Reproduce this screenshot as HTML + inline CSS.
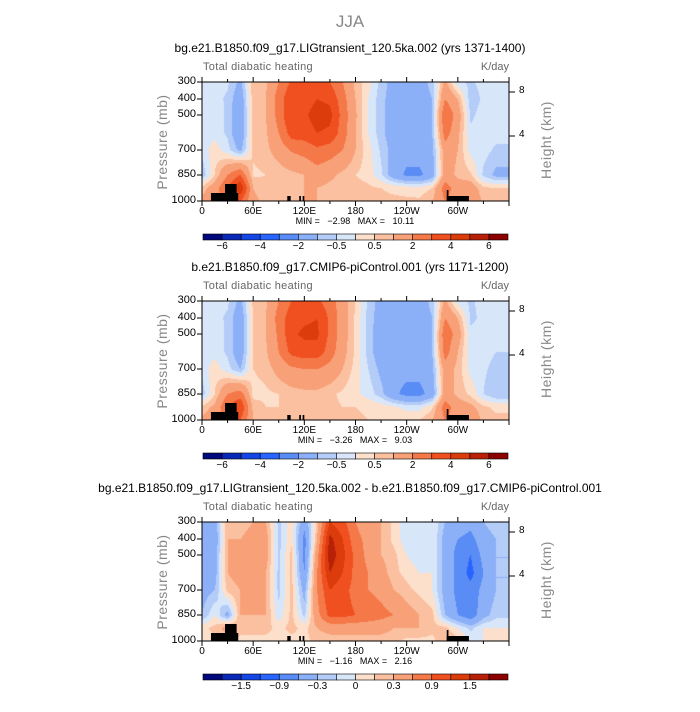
<!DOCTYPE html>
<html><head><meta charset="utf-8"><style>
body{margin:0;background:#fff;width:700px;height:700px;overflow:hidden;font-family:"Liberation Sans",sans-serif}
#root{position:relative;width:700px;height:700px}
.t{position:absolute;white-space:nowrap}
canvas{position:absolute}
</style></head><body><div id="root">
<div class="t" style="left:0;width:700px;text-align:center;top:12px;font-size:17px;color:#888">JJA</div>
</div>
<script>
const lons=[0,15,30,45,60,75,90,105,120,135,150,165,180,195,210,225,240,255,270,285,300,315,330,345];
const levs=[300,400,500,600,700,850,925,1000];
const levY=[0,17,33,51,68,93,106,119];
const p1=[
[-0.3,-0.3,-0.4,-1.2,0.8,0.9,2,3.2,3,3.3,3,2,0.8,0.2,-0.7,-1.3,-1.3,-1.3,-0.8,1.2,-0.4,-0.6,-0.3,-0.3],
[-0.4,-0.3,-0.6,-1.6,0.8,1,2.5,3.8,3.5,4,3.8,2.4,1,0,-0.8,-1.4,-1.5,-1.4,-1,2,1,-0.8,-0.4,-0.3],
[-0.4,-0.2,-0.6,-1.8,0.8,1,2.4,4,3.8,4.5,4.3,2.6,1.1,0,-0.8,-1.5,-1.5,-1.5,-1,3,1.5,-0.6,-0.3,-0.3],
[-0.4,-0.2,-0.6,-1.8,0.8,0.9,2,3.5,3.5,4,3.8,2.5,1,0,-0.8,-1.5,-1.5,-1.5,-1,2.5,1.2,-0.4,-0.3,-0.3],
[-0.3,0.3,-0.3,-1.2,0.6,0.8,1.4,2.1,2.4,2.8,2.5,2,1,0.2,-0.6,-1.3,-1.6,-1.6,-1.2,1.5,1,-0.2,-0.3,-0.6],
[-0.9,0.5,2,3,0.4,0.5,0.6,0.8,1,1.5,1.2,0.8,0.5,0.3,-0.4,-1.5,-2.2,-2.2,-1.5,1.5,0.8,0.6,-0.6,-1.2],
[0.7,1.5,3,5,1,0.6,0.6,0.8,1,1,0.8,0.7,0.7,0.6,0.5,0.4,0.3,0.2,0.5,2.5,1.5,1.5,0.6,0.5],
[1.2,1.5,2.5,3,1.2,0.8,0.8,0.8,1,1,0.8,0.7,0.7,0.6,0.6,0.6,0.6,0.6,1,2,1.5,2,0.8,0.6]];
const p2=[
[-0.3,-0.3,-0.4,-1.2,0.6,0.9,2,3,3.2,3.2,2.5,1.4,0.5,-0.6,-1.3,-1.5,-1.5,-1.4,-0.8,1.2,-0.3,-0.6,-0.3,-0.4],
[-0.3,-0.3,-0.6,-1.6,0.6,1,2.4,3.6,3.8,4,2.8,1.4,0.4,-0.7,-1.4,-1.6,-1.6,-1.5,-1,2,1,-0.6,-0.4,-0.4],
[-0.3,-0.2,-0.6,-1.6,0.6,1,2.2,3.8,4.2,4.2,2.8,1.4,0.4,-0.7,-1.5,-1.6,-1.6,-1.6,-1,2.8,1.5,-0.4,-0.3,-0.4],
[-0.3,-0.2,-0.6,-1.6,0.6,0.9,2,3.3,3.6,3.6,2.5,1.3,0.4,-0.7,-1.5,-1.6,-1.6,-1.6,-1,2.5,1,-0.3,-0.3,-0.5],
[-0.3,0.3,-0.3,-1,0.5,0.7,1.3,1.8,2,2,1.6,1,0.3,-0.5,-1.2,-1.6,-1.7,-1.7,-1.2,1.5,0.8,-0.2,-0.4,-0.7],
[-0.8,0.5,2,2.5,0.3,0.4,0.5,0.7,0.8,0.8,0.6,0.4,0.1,-0.2,-0.8,-1.8,-2.3,-2.3,-1.6,1.5,0.8,0.4,-0.5,-1],
[0.6,1.2,3,4,0.8,0.5,0.5,0.7,0.8,0.8,0.6,0.5,0.5,0.4,0.3,0.1,-0.2,-0.2,0.4,2.5,1.5,1.2,0.6,0.4],
[1.2,1.5,2.5,3,1,0.7,0.7,0.7,0.9,0.8,0.6,0.6,0.6,0.5,0.5,0.5,0.5,0.5,1,2,1.5,1.8,0.8,0.6]];
const p3=[
[-0.4,-0.4,0.3,0.2,0.3,0.3,-0.2,0.1,-0.5,0.2,1.2,1,0.6,0.4,0.3,0.1,-0.1,-0.1,0,-0.3,-0.4,-0.5,-0.3,-0.2],
[-0.5,-0.5,0.3,0.3,0.4,0.4,-0.2,0.1,-0.7,0.3,1.6,1.2,0.7,0.5,0.3,0.1,-0.1,-0.1,0,-0.4,-0.6,-0.7,-0.4,-0.3],
[-0.5,-0.4,0.3,0.4,0.5,0.4,-0.2,0.2,-0.7,0.5,1.7,1.3,0.8,0.5,0.3,0.2,0,-0.1,0,-0.4,-0.7,-0.9,-0.5,-0.3],
[-0.5,-0.4,0.3,0.4,0.5,0.3,-0.2,0.2,-0.6,0.6,1.5,1.2,0.8,0.6,0.4,0.2,0.1,0,0,-0.4,-0.7,-1,-0.6,-0.3],
[-0.4,-0.3,0.2,0.3,0.4,0.3,-0.2,0.2,-0.4,0.6,1.2,1,0.8,0.6,0.5,0.3,0.2,0.1,0,-0.4,-0.7,-0.8,-0.5,-0.3],
[-0.3,0,-0.4,0.3,0.3,0.3,-0.1,0.2,-0.2,0.5,1,1,0.9,0.8,0.7,0.6,0.4,0.3,0.2,-0.3,-0.6,-0.8,-0.4,-0.2],
[0.1,0.2,0.4,0.2,0.2,0.2,0.1,0.2,0.1,0.3,0.4,0.4,0.4,0.4,0.4,0.3,0.3,0.3,0.2,0.2,0,-0.2,0,0],
[0.1,0.1,0.2,0.1,0.1,0.1,0.1,0.1,0.1,0.2,0.2,0.2,0.2,0.2,0.2,0.2,0.1,0.1,0.1,0.3,0.2,0,0,0]];
const levelsA=[-6,-5,-4,-3,-2,-1,-0.5,0,0.5,1,2,3,4,5,6];
const levelsB=[-1.8,-1.5,-1.2,-0.9,-0.6,-0.3,-0.15,0,0.15,0.3,0.6,0.9,1.2,1.5,1.8];
const labelsA=['−6','−4','−2','−0.5','0.5','2','4','6'];
const labelsB=['−1.5','−0.9','−0.3','0','0.3','0.9','1.5'];
const titles=['bg.e21.B1850.f09_g17.LIGtransient_120.5ka.002 (yrs 1371-1400)','b.e21.B1850.f09_g17.CMIP6-piControl.001 (yrs 1171-1200)','bg.e21.B1850.f09_g17.LIGtransient_120.5ka.002 - b.e21.B1850.f09_g17.CMIP6-piControl.001'];
const minmax=['MIN =   −2.98   MAX =   10.11','MIN =   −3.26   MAX =   9.03','MIN =   −1.16   MAX =   2.16'];
const xTickLabels=['0','60E','120E','180','120W','60W'];
const colors=['#00087c','#0a28b8','#1446e6','#2864ff','#5a8cf5','#8cb0f8','#b4ccf8','#d8e6fa','#fde0cc','#fbc0a0','#f8a078','#f47848','#f05020','#dc3c0c','#b82008','#8c0000'];
const root=document.getElementById('root');
const X0=202,W=307,H=119;
function tx(parent,name,txt,css){const d=document.createElement('div');d.className='t';d.textContent=txt;d.style.cssText=css;


parent.appendChild(d);return d;}
function field(grid,px,py){
 const lon=px/W*360;let i=Math.min(Math.floor(lon/15),22);let fx=(lon-i*15)/15;if(fx>1)fx=1;
 let j=0;while(j<6&&levY[j+1]<py)j++;let fy=(py-levY[j])/(levY[j+1]-levY[j]);fy=Math.max(0,Math.min(1,fy));
 const a=grid[j][i]*(1-fx)+grid[j][i+1]*fx,b=grid[j+1][i]*(1-fx)+grid[j+1][i+1]*fx;return a*(1-fy)+b*fy;}
function cls(v,lv){let k=0;while(k<lv.length&&v>=lv[k])k++;return k;}
function lonX(l){return X0+l/360*W;}
const panels=[{g:p1,lv:levelsA,lb:labelsA,off:0},{g:p2,lv:levelsA,lb:labelsA,off:219},{g:p3,lv:levelsB,lb:labelsB,off:440}];
panels.forEach((p,n)=>{
 const Y0=82+p.off;
 tx(root,'panel-title-'+(n+1),titles[n],`left:0;width:700px;text-align:center;top:${Y0-41}px;font-size:12px;color:#000`);
 tx(root,'subtitle-left-'+(n+1),'Total diabatic heating',`left:203px;top:${Y0-21}px;font-size:11px;color:#666;letter-spacing:0.3px`);
 tx(root,'units-label-'+(n+1),'K/day',`left:470px;width:39px;text-align:right;top:${Y0-21}px;font-size:11px;color:#666`);
 const cv=document.createElement('canvas');cv.width=W;cv.height=H;cv.style.left=X0+'px';cv.style.top=Y0+'px';
 
 
 root.appendChild(cv);const c=cv.getContext('2d');
 for(let y=0;y<H;y++)for(let x=0;x<W;x++){c.fillStyle=colors[cls(field(p.g,x+0.5,y+0.5),p.lv)];c.fillRect(x,y,1,1);}
 const ns='http://www.w3.org/2000/svg';
 const sv=document.createElementNS(ns,'svg');sv.setAttribute('width',700);sv.setAttribute('height',200);
 sv.style.cssText=`position:absolute;left:0;top:${Y0-10}px`;
 
 
 root.appendChild(sv);
 let s='';const oy=10;
 [[10.5,42.5,193],[27,40.6,184],[100,104,196],[114,116,196],[118,120,196],[287,313,196],[287,289,190]].forEach(t=>{s+=`<rect x="${lonX(t[0])}" y="${t[2]-82+oy}" width="${lonX(t[1])-lonX(t[0])}" height="${201-t[2]}" fill="#000"/>`;});
 s+=`<rect x="${X0}" y="${oy}" width="${W}" height="${H}" fill="none" stroke="#000" stroke-width="1"/>`;
 for(let l=0;l<=360;l+=30){const x=lonX(l),L=l%60==0?5:3;s+=`<line x1="${x}" y1="${oy+H}" x2="${x}" y2="${oy+H+L}" stroke="#000"/><line x1="${x}" y1="${oy}" x2="${x}" y2="${oy-L}" stroke="#000"/>`;}
 [0,1,2,4,5,7].forEach(j=>{s+=`<line x1="${X0-5}" y1="${oy+levY[j]}" x2="${X0}" y2="${oy+levY[j]}" stroke="#000"/>`;});
 [[8,10],[4,54]].forEach(h=>{s+=`<line x1="${X0+W}" y1="${oy+h[1]}" x2="${X0+W+6}" y2="${oy+h[1]}" stroke="#000"/>`;});
 sv.innerHTML=s;
 [300,400,500,null,700,850,null,1000].forEach((v,j)=>{if(v)tx(root,'y-tick-label','' +v,`left:160px;width:36px;text-align:right;top:${Y0+levY[j]-7}px;font-size:11px;color:#000`);});
 tx(root,'height-tick-8','8',`left:519px;top:${Y0+3}px;font-size:10px;color:#000`);
 tx(root,'height-tick-4','4',`left:519px;top:${Y0+47}px;font-size:10px;color:#000`);
 tx(root,'y-axis-title-'+(n+1),'Pressure (mb)',`left:112px;top:${Y0+52}px;width:100px;text-align:center;font-size:14px;color:#888;transform:rotate(-90deg);transform-origin:50% 50%;letter-spacing:0.5px`);
 tx(root,'height-axis-title-'+(n+1),'Height (km)',`left:496px;top:${Y0+50}px;width:100px;text-align:center;font-size:14px;color:#888;transform:rotate(-90deg);letter-spacing:0.5px`);
 xTickLabels.forEach((t,k)=>{tx(root,'x-tick-label',t,`left:${lonX(k*60)-20}px;width:40px;text-align:center;top:${Y0+H+5}px;font-size:10px;color:#000`);});
 tx(root,'min-max-'+(n+1),minmax[n],`left:250px;width:210px;text-align:center;top:${Y0+H+15}px;font-size:9px;color:#000;white-space:pre`);
 const cb=document.createElementNS(ns,'svg');cb.setAttribute('width',310);cb.setAttribute('height',8);
 cb.style.cssText=`position:absolute;left:201px;top:${233+p.off}px`;
 
 
 let cs='';colors.forEach((col,k)=>{cs+=`<rect x="${2+k*305/16}" y="1" width="${305/16}" height="6" fill="${col}" stroke="#000" stroke-width="0.6"/>`;});
 cb.innerHTML=cs;root.appendChild(cb);
 const lpos=n<2?[0,2,4,6,8,10,12,14]:[1,3,5,7,9,11,13];
 p.lb.forEach((t,k)=>{const x=203+305/16*(lpos[k]+1);tx(root,'colorbar-label',t,`left:${x-20}px;width:40px;text-align:center;top:${241+p.off}px;font-size:10px;color:#000`);});
});
</script></body></html>
